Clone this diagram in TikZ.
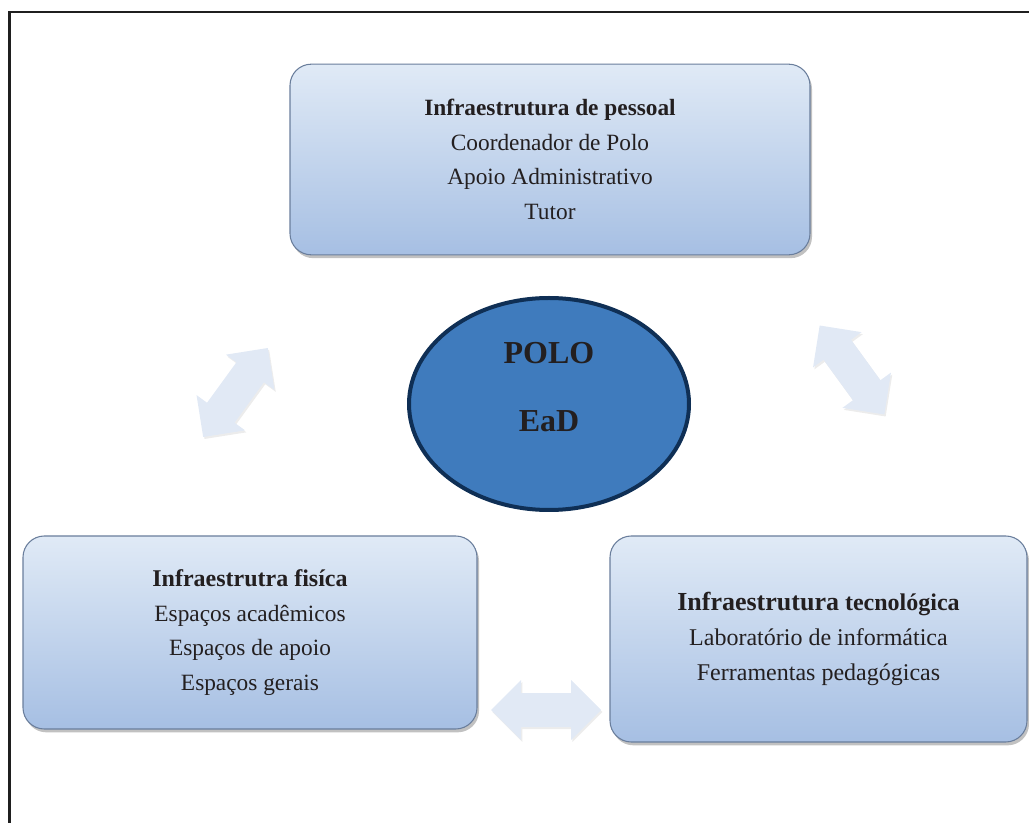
\documentclass[tikz,border=0pt]{standalone}
\usepackage{fontspec}
\setmainfont{Liberation Serif}
\usetikzlibrary{shadows,shapes.geometric}
\definecolor{boxtop}{HTML}{E0EAF6}
\definecolor{boxbot}{HTML}{A6BFE3}
\definecolor{boxline}{HTML}{6A7E9C}
\definecolor{polofill}{HTML}{3F7BBD}
\definecolor{pololine}{HTML}{0F2F55}
\definecolor{txt}{HTML}{231F20}
\definecolor{arrfill}{HTML}{E1E9F5}
\tikzset{
  infobox/.style={rounded corners=16pt, draw=boxline, line width=0.8pt,
    top color=boxtop, bottom color=boxbot, align=center, text=txt,
    font=\fontsize{17.5}{26}\selectfont, inner sep=0pt,
    drop shadow={shadow xshift=1.5pt, shadow yshift=-2.5pt, opacity=0.35, fill=black!70}},
  arrowstyle/.style={fill=arrfill, draw=none,
    drop shadow={shadow xshift=1pt, shadow yshift=-1.5pt, opacity=0.12, fill=black!60}},
  dblarrow/.pic={
    \path[arrowstyle] (-55,0) -- (-25,30) -- (-25,17) -- (25,17) -- (25,30) -- (55,0)
      -- (25,-30) -- (25,-17) -- (-25,-17) -- (-25,-30) -- cycle;
  },
  polotext/.style={font=\fontsize{24}{28}\bfseries\selectfont, text=txt}
}
\begin{document}
\begin{tikzpicture}[x=0.75pt,y=-0.75pt]
\useasboundingbox (0,0) rectangle (1029,823);
% frame
\draw[line width=1.6pt, color=black!88] (9.5,823) -- (9.5,12) -- (1029,12);

% boxes
\node[infobox, minimum width=390pt, minimum height=143pt] (pessoal) at (550,159.5)
  {\textbf{Infraestrutura de pessoal}\\Coordenador de Polo\\Apoio Administrativo\\Tutor};
\node[infobox, minimum width=340.5pt, minimum height=144.75pt] (fisica) at (250,632.5)
  {{\fontsize{18}{26}\bfseries\selectfont Infraestrutra fis\'{\i}ca}\\Espaços acadêmicos\\Espaços de apoio\\Espaços gerais};
\node[infobox, minimum width=312.75pt, minimum height=154.5pt, font=\fontsize{18}{26.5}\selectfont] (tecno) at (818.5,639)
  {{\fontsize{19.5}{26}\bfseries\selectfont Infraestrutura} {\bfseries tecnológica}\\Laboratório de informática\\Ferramentas pedagógicas};

% central ellipse
\node[ellipse, draw=pololine, line width=3pt, fill=polofill, minimum width=210pt, minimum height=159pt, inner sep=0pt] (polo) at (549,404) {};
\node[polotext] (poloA) at (549,353) {POLO};
\node[polotext] (poloB) at (549,421) {EaD};

% double arrows
\pic[rotate=54] (arrL) at (235.5,392.5) {dblarrow};
\pic[rotate=-54] (arrR) at (852,370) {dblarrow};
\pic (arrB) at (546,710) {dblarrow};
\end{tikzpicture}
\end{document}
